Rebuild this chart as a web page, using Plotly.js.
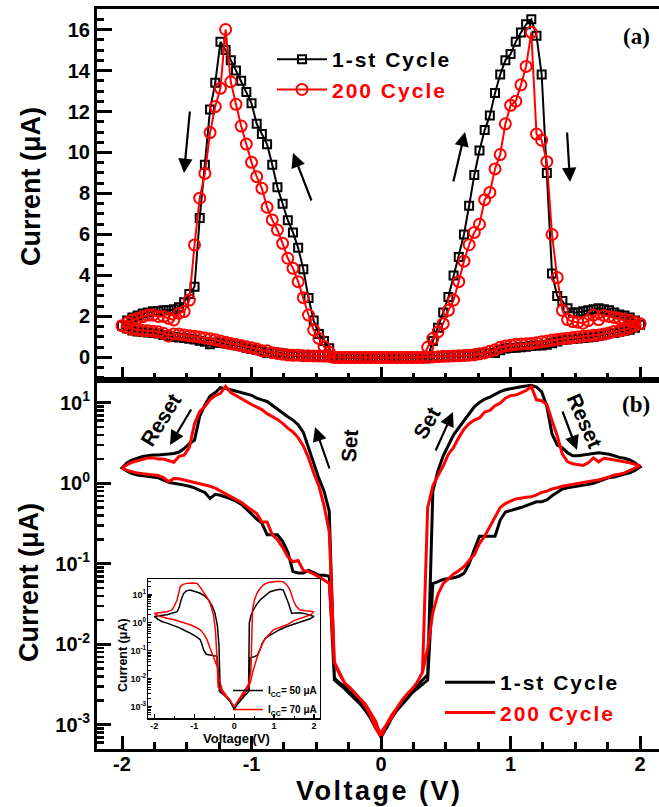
<!DOCTYPE html>
<html><head><meta charset="utf-8">
<script src="https://cdn.plot.ly/plotly-3.0.1.min.js"></script>
<style>html,body{margin:0;padding:0;overflow:hidden;background:#fff;}#chart{width:670px;height:807px;}</style>
</head><body><div id="chart"></div>
<script>
// Voltage sweep segments (V)
const VA=[0,-0.04,-0.08,-0.12,-0.16,-0.2,-0.24,-0.28,-0.32,-0.36,-0.4,-0.44,-0.48,-0.52,-0.56,-0.6,-0.64,-0.68,-0.72,-0.76,-0.8,-0.84,-0.88,-0.92,-0.96,-1,-1.04,-1.08,-1.12,-1.16,-1.2,-1.24,-1.28,-1.32,-1.36,-1.4,-1.44,-1.48,-1.52,-1.56,-1.6,-1.64,-1.68,-1.72,-1.76,-1.8,-1.84,-1.88,-1.92,-1.96,-2];
const VB=[-1.96,-1.92,-1.88,-1.84,-1.8,-1.76,-1.72,-1.68,-1.64,-1.6,-1.56,-1.52,-1.48,-1.44,-1.4,-1.36,-1.32,-1.28,-1.24,-1.2,-1.16,-1.12,-1.08,-1.04,-1,-0.96,-0.92,-0.88,-0.84,-0.8,-0.76,-0.72,-0.68,-0.64,-0.6,-0.56,-0.52,-0.48,-0.44,-0.4,-0.36,-0.32,-0.28,-0.24,-0.2,-0.16,-0.12,-0.08,-0.04,0];
const VC=[0.04,0.08,0.12,0.16,0.2,0.24,0.28,0.32,0.36,0.4,0.44,0.48,0.52,0.56,0.6,0.64,0.68,0.72,0.76,0.8,0.84,0.88,0.92,0.96,1,1.04,1.08,1.12,1.16,1.2,1.24,1.28,1.32,1.36,1.4,1.44,1.48,1.52,1.56,1.6,1.64,1.68,1.72,1.76,1.8,1.84,1.88,1.92,1.96,2];
const VD=[1.96,1.92,1.88,1.84,1.8,1.76,1.72,1.68,1.64,1.6,1.56,1.52,1.48,1.44,1.4,1.36,1.32,1.28,1.24,1.2,1.16,1.12,1.08,1.04,1,0.96,0.92,0.88,0.84,0.8,0.76,0.72,0.68,0.64,0.6,0.56,0.52,0.48,0.44,0.4,0.36,0.32,0.28,0.24,0.2,0.16,0.12,0.08,0.04,0];

// 1-st Cycle current (uA)
const I1A=[0.0007,0.001,0.0013,0.0016,0.0019,0.0022,0.0026,0.003,0.0033,0.0038,0.45,0.8,1.15,1.8,2.9,4.3,5.35,6.1,6.7,7.5,8.3,9.4,10.4,10.9,11.4,12.4,12.95,13.5,14,14.5,15,15.4,13.4,12.1,9.4,6.8,3.45,3.1,2.7,2.45,2.35,2.3,2.3,2.25,2.25,2.2,2.15,2.05,1.95,1.8,1.55];
const I1B=[1.42,1.32,1.27,1.25,1.22,1.2,1.17,1.1,1.03,1.0,0.98,0.95,0.92,0.88,0.82,0.77,0.65,0.73,0.71,0.68,0.64,0.6,0.55,0.48,0.41,0.36,0.32,0.23,0.23,0.23,0.19,0.14,0.08,0.077,0.077,0.083,0.078,0.072,0.072,0.07,0.0036,0.0032,0.0028,0.0024,0.0021,0.0018,0.0015,0.0012,0.0009,0.0008];
const I1C=[0.0009,0.0012,0.0015,0.0019,0.0023,0.0027,0.0031,0.0036,0.0042,0.8,1.45,2.2,2.95,4.0,4.9,6.0,7.4,8.9,10.1,11.1,11.8,12.9,13.8,14.5,14.8,15.4,15.85,16.25,16.5,15.7,13.8,9.0,4.1,3.0,2.75,2.4,2.2,2.2,2.25,2.3,2.35,2.4,2.35,2.3,2.2,2.1,2.05,1.95,1.8,1.6];
const I1D=[1.45,1.35,1.3,1.25,1.2,1.18,1.12,1.05,1.0,0.97,0.95,0.93,0.9,0.88,0.85,0.78,0.7,0.62,0.59,0.59,0.56,0.52,0.5,0.48,0.46,0.44,0.35,0.22,0.22,0.22,0.22,0.15,0.1,0.076,0.07,0.067,0.065,0.064,0.06,0.057,0.0036,0.0032,0.0028,0.0025,0.0021,0.0018,0.0015,0.0012,0.0009,0.0007];

// 200 Cycle current (uA)
const I2A=[0.0007,0.0011,0.0014,0.0018,0.0021,0.0025,0.0029,0.0033,0.0045,0.006,0.25,0.53,0.93,1.34,2.07,2.92,3.7,4.35,4.84,5.57,6.22,6.71,7.33,8.25,8.82,9.52,10.41,11.29,12.35,13.45,16.0,13.13,12.24,10.97,8.98,7.77,5.49,2.8,2.24,2.16,1.83,1.91,2.0,2.0,2.07,2.07,1.99,1.91,1.83,1.7,1.55];
const I2B=[1.45,1.38,1.34,1.32,1.3,1.28,1.25,1.18,1.05,1.15,1.14,1.1,1.06,1.03,1.0,0.95,0.92,0.87,0.8,0.74,0.68,0.63,0.58,0.52,0.47,0.42,0.33,0.33,0.23,0.2,0.16,0.122,0.106,0.11,0.083,0.08,0.075,0.069,0.063,0.057,0.006,0.0042,0.0033,0.0029,0.0025,0.0021,0.0017,0.0013,0.0009,0.0007];
const I2C=[0.001,0.0013,0.0016,0.002,0.0024,0.0028,0.0034,0.0045,0.5,0.93,1.25,1.65,2.3,2.8,3.7,4.7,5.5,6.1,6.5,7.7,8.05,9.2,9.9,11.4,12.3,12.5,13.3,14.2,15.86,10.9,10.6,9.55,6.0,3.9,2.3,1.85,1.75,1.72,1.67,1.8,2.07,1.85,2.05,2.0,1.95,1.9,1.85,1.8,1.72,1.65];
const I2D=[1.55,1.45,1.35,1.3,1.27,1.2,1.14,1.1,1.08,1.05,1.04,1.0,0.97,0.94,0.92,0.88,0.85,0.8,0.77,0.72,0.68,0.67,0.66,0.64,0.6,0.56,0.5,0.38,0.3,0.22,0.18,0.13,0.11,0.092,0.082,0.075,0.065,0.057,0.042,0.025,0.009,0.0045,0.0034,0.0028,0.0024,0.002,0.0016,0.0012,0.001,0.0008];

// Inset: Icc = 50 uA
const INV50=[0,-0.1,-0.2,-0.3,-0.35,-0.38,-0.42,-0.48,-0.55,-0.64,-0.75,-0.85,-0.95,-1.1,-1.2,-1.27,-1.33,-1.38,-1.43,-1.55,-1.68,-1.85,-2,
 -1.9,-1.8,-1.68,-1.5,-1.35,-1.2,-1.1,-0.95,-0.85,-0.8,-0.77,-0.7,-0.6,-0.5,-0.43,-0.37,-0.2,-0.1,0,
 0.1,0.2,0.3,0.36,0.38,0.42,0.48,0.56,0.65,0.78,0.9,1.05,1.15,1.23,1.3,1.36,1.44,1.55,1.65,1.8,1.9,2,
 1.9,1.8,1.65,1.5,1.32,1.15,0.98,0.88,0.78,0.7,0.65,0.58,0.52,0.4,0.37,0.25,0.12,0];
const INI50=[0.0008,0.0016,0.0023,0.003,0.0035,0.15,0.8,2.2,4.0,6.6,9.5,11.5,13,15,14,11,6.5,3.5,2.5,2.2,1.95,1.85,1.7,
 1.3,1.1,0.98,0.8,0.65,0.5,0.43,0.32,0.25,0.16,0.11,0.075,0.07,0.065,0.063,0.0035,0.0022,0.0015,0.0008,
 0.0013,0.002,0.0028,0.0035,1.0,1.8,2.9,4.5,6.6,9.5,13,15,16,15,9,5,2.2,2.2,2.3,2.1,1.9,1.7,
 1.4,1.25,1.1,0.9,0.74,0.58,0.43,0.35,0.28,0.18,0.11,0.07,0.063,0.055,0.0035,0.0025,0.0015,0.0008];
// Inset: Icc = 70 uA
const INV70=[0,-0.1,-0.2,-0.27,-0.35,-0.4,-0.44,-0.47,-0.52,-0.6,-0.7,-0.77,-0.85,-0.93,-1.05,-1.18,-1.28,-1.35,-1.4,-1.43,-1.5,-1.56,-1.68,-1.85,-2,
 -1.9,-1.8,-1.68,-1.5,-1.35,-1.2,-1.1,-0.95,-0.85,-0.75,-0.68,-0.6,-0.56,-0.5,-0.43,-0.38,-0.3,-0.2,-0.1,0,
 0.1,0.2,0.3,0.36,0.42,0.44,0.46,0.5,0.57,0.65,0.73,0.85,0.98,1.1,1.23,1.33,1.4,1.48,1.55,1.65,1.8,1.9,2,
 1.9,1.8,1.65,1.5,1.32,1.15,0.98,0.82,0.72,0.65,0.57,0.48,0.4,0.3,0.15,0];
const INI70=[0.001,0.0017,0.0022,0.0027,0.0045,0.005,0.1,0.56,2.0,5,9,13,19,26,27,26,24,20,10,6.6,4,2.9,2.5,2.4,2.2,
 1.8,1.6,1.47,1.3,1.12,0.95,0.85,0.68,0.56,0.38,0.25,0.12,0.083,0.05,0.028,0.01,0.004,0.0025,0.0017,0.001,
 0.0017,0.0027,0.0045,0.0063,0.02,0.5,3,6,11.5,17,23,28,30,31,30,22,15,6.6,4,2.9,2.7,2.6,2.5,
 1.9,1.7,1.47,1.2,0.85,0.7,0.56,0.32,0.2,0.11,0.055,0.021,0.007,0.0035,0.002,0.001];

// tick labels
const XTICKS=[-2,-1,0,1,2];
const XTICKTEXT=['-2','-1','0','1','2'];
const LOGTICKS=[0.001,0.01,0.1,1,10];
const LOGTICKTEXT=['10<sup>-3</sup>','10<sup>-2</sup>','10<sup>-1</sup>','10<sup>0</sup>','10<sup>1</sup>'];
const NAMES=['1-st Cycle','200 Cycle'];
const INSETNAMES=['I<sub>CC</sub>= 50 μA','I<sub>CC</sub>= 70 μA'];

const V=VA.concat(VB,VC,VD);
const I1=I1A.concat(I1B,I1C,I1D);
const I2=I2A.concat(I2B,I2C,I2D);

const FF='Liberation Sans, Arial, sans-serif';
const RED='#ff0000';
function bf(size,color){return {family:FF,size:size,color:color||'#000',weight:'bold'};}
const nm0='<span style="letter-spacing:2px">'+NAMES[0]+'</span>';
const nm1='<span style="color:#ff0000;letter-spacing:2px">'+NAMES[1]+'</span>';

const traces=[
 {x:V,y:I1,xaxis:'x',yaxis:'y',mode:'lines+markers',name:nm0,legend:'legend',
  line:{color:'#000',width:2},marker:{symbol:'square-open',size:8,color:'#000',line:{width:2,color:'#000'}}},
 {x:V,y:I2,xaxis:'x',yaxis:'y',mode:'lines+markers',name:nm1,legend:'legend',
  line:{color:RED,width:2},marker:{symbol:'circle-open',size:11,color:RED,line:{width:2,color:RED}}},
 {x:V,y:I1,xaxis:'x2',yaxis:'y2',mode:'lines',name:nm0,legend:'legend2',line:{color:'#000',width:3}},
 {x:V,y:I2,xaxis:'x2',yaxis:'y2',mode:'lines',name:nm1,legend:'legend2',line:{color:RED,width:3}},
 {x:INV50,y:INI50,xaxis:'x3',yaxis:'y3',mode:'lines',name:INSETNAMES[0],legend:'legend3',line:{color:'#000',width:1.5}},
 {x:INV70,y:INI70,xaxis:'x3',yaxis:'y3',mode:'lines',name:INSETNAMES[1],legend:'legend3',line:{color:RED,width:1.5}}
];

const XR=[-2.193,2.2];
function px(x){return (x-97)/569;}
function py(y){return (749-y)/740;}

const commonX={range:XR,showline:true,linewidth:3,linecolor:'#000',mirror:true,ticks:'inside',ticklen:13,tickwidth:3,tickcolor:'#000',
 tickmode:'array',tickvals:XTICKS,ticktext:XTICKTEXT,showgrid:false,zeroline:false,
 minor:{ticks:'inside',ticklen:7,tickwidth:3,tickcolor:'#000',tickmode:'linear',tick0:0,dtick:0.25,showgrid:false}};

function ann(x,y,text,font,angle){return {xref:'paper',yref:'paper',x:px(x),y:py(y),xanchor:'center',yanchor:'middle',text:text,showarrow:false,font:font,textangle:angle||0};}
const SERIF={family:'Liberation Serif, Times New Roman, serif',size:23,color:'#000',weight:'bold'};

const layout={
 width:670,height:807,margin:{l:97,r:4,t:9,b:58},paper_bgcolor:'#fff',plot_bgcolor:'#fff',showlegend:true,
 xaxis:Object.assign({},commonX,{domain:[0,1],anchor:'y',showticklabels:false}),
 yaxis:{domain:[0.4986,1],anchor:'x',range:[-1.1,17],showline:true,linewidth:3,linecolor:'#000',mirror:true,ticks:'inside',ticklen:15,tickwidth:3,
  tickcolor:'#000',dtick:2,tick0:0,tickfont:bf(20),showgrid:false,zeroline:false,
  minor:{ticks:'inside',ticklen:7,tickwidth:3,tickcolor:'#000',dtick:0.5,tick0:0,showgrid:false}},
 xaxis2:Object.assign({},commonX,{domain:[0,1],anchor:'y2',tickfont:bf(20),ticklabelstandoff:-5}),
 yaxis2:{domain:[0,0.4986],anchor:'x2',type:'log',range:[-3.30,1.283],showline:true,linewidth:3,linecolor:'#000',mirror:true,ticks:'inside',ticklen:14,tickwidth:3,
  tickcolor:'#000',tickmode:'array',tickvals:LOGTICKS,ticktext:LOGTICKTEXT,tickfont:bf(20),showgrid:false,zeroline:false,
  minor:{ticks:'inside',ticklen:7,tickwidth:2.5,tickcolor:'#000',dtick:'D1',showgrid:false}},
 xaxis3:{domain:[0.0902,0.3919],anchor:'y3',range:[-2.15,2.15],showline:true,linewidth:1.5,linecolor:'#000',mirror:true,ticks:'inside',ticklen:4,tickwidth:1.2,
  tickcolor:'#000',tickmode:'array',tickvals:XTICKS,ticktext:XTICKTEXT,tickfont:bf(9),showgrid:false,zeroline:false,ticklabelstandoff:-2,
  minor:{ticks:'inside',ticklen:2.5,tickwidth:1,tickcolor:'#000',tickmode:'linear',tick0:0,dtick:0.5,showgrid:false}},
 yaxis3:{domain:[0.0415,0.2293],anchor:'x3',type:'log',range:[-3.42,1.56],showline:true,linewidth:1.5,linecolor:'#000',mirror:true,ticks:'inside',ticklen:4,tickwidth:1.2,
  tickcolor:'#000',tickmode:'array',tickvals:LOGTICKS,ticktext:LOGTICKTEXT,tickfont:bf(9),showgrid:false,zeroline:false,ticklabelstandoff:-1,
  minor:{ticks:'inside',ticklen:2.5,tickwidth:1,tickcolor:'#000',dtick:'D1',showgrid:false}},
 legend:{x:px(272),y:py(39),xanchor:'left',yanchor:'top',bgcolor:'rgba(0,0,0,0)',font:bf(21),itemwidth:50,tracegroupgap:0},
 legend2:{x:px(440),y:py(662),xanchor:'left',yanchor:'top',bgcolor:'rgba(0,0,0,0)',font:bf(21),itemwidth:50,tracegroupgap:0},
 legend3:{x:px(228),y:py(676),xanchor:'left',yanchor:'top',bgcolor:'rgba(0,0,0,0)',font:bf(10),itemwidth:30,tracegroupgap:0},
 annotations:[
  ann(31,187,'Current (μA)',bf(27),-90),
  ann(29,583,'Current (μA)',bf(27),-90),
  ann(379,791,'<span style="letter-spacing:2.5px">Voltage (V)</span>',bf(27)),
  ann(636,37,'(a)',SERIF),
  ann(636,404,'(b)',SERIF),
  ann(160,420,'Reset',bf(21),-58),
  ann(349,446,'Set',bf(21),-86),
  ann(426,423,'Set',bf(21),-60),
  ann(585,420,'Reset',bf(21),66),
  ann(236,738,'Voltage (V)',bf(13)),
  ann(123,655,'Current (μA)',bf(12.5),-90)
 ]
};
// arrows: [headX, headY, tailX, tailY] in pixels
const ARROWS=[[184,173,190,110],[293,153,312,202],[465,132,453,183],[570,182,567,131],
 [170,445,192,408],[315,427,330,470],[453,412,435,452],[577,450,562,410]];
ARROWS.forEach(a=>{
 layout.annotations.push({xref:'paper',yref:'paper',x:px(a[0]),y:py(a[1]),ax:a[2]-a[0],ay:a[3]-a[1],text:'',showarrow:true,
  arrowhead:2,arrowsize:1.3,arrowwidth:2.2,arrowcolor:'#000',standoff:0,startstandoff:0});
});

Plotly.newPlot('chart',traces,layout,{displayModeBar:false,staticPlot:true});
</script></body></html>
